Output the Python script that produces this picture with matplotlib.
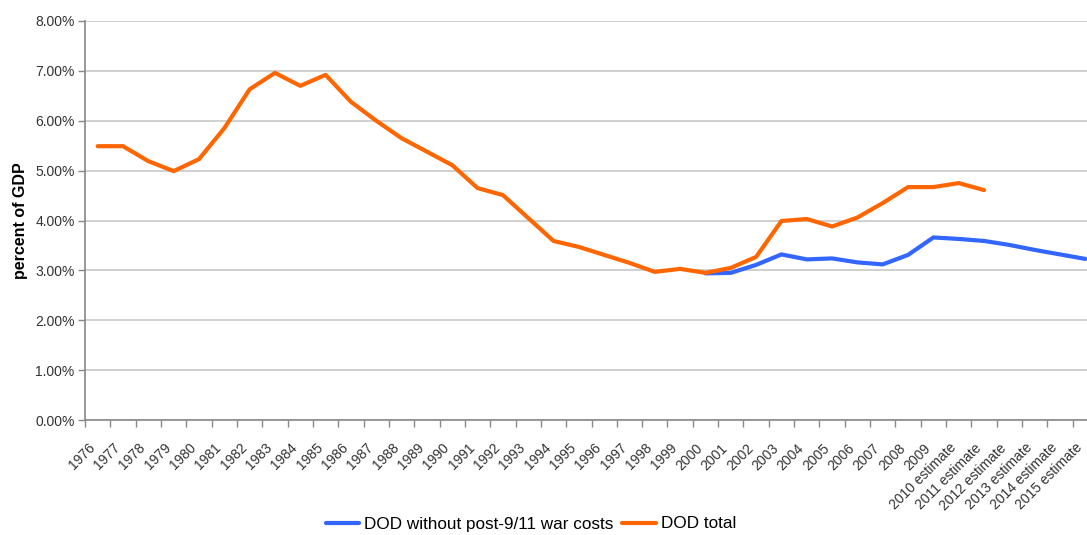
#!/usr/bin/env python3
import matplotlib
matplotlib.use('Agg')
import matplotlib.pyplot as plt
import matplotlib.transforms as mtransforms
import numpy as np

plt.rcParams['font.family'] = ['Liberation Sans', 'DejaVu Sans']

years = [str(y) for y in range(1976, 2010)] + ['%d estimate' % y for y in range(2010, 2016)]

# DOD total, percent of GDP (1976 .. 2011 estimate)
dod_total = [5.49, 5.49, 5.19, 4.99, 5.23, 5.85, 6.63, 6.96, 6.70, 6.92,
             6.38, 6.00, 5.65, 5.38, 5.11, 4.65, 4.51, 4.05, 3.59, 3.47,
             3.31, 3.15, 2.97, 3.03, 2.95, 3.05, 3.27, 3.99, 4.03, 3.88,
             4.06, 4.35, 4.67, 4.67, 4.75, 4.61]

# DOD without post-9/11 war costs (2000 .. 2015 estimate)
dod_base_start = 24
dod_base = [2.94, 2.95, 3.11, 3.32, 3.22, 3.24, 3.16, 3.12, 3.31, 3.66,
            3.63, 3.59, 3.51, 3.41, 3.32, 3.23]

W, H = 1087, 535
fig = plt.figure(figsize=(W / 100, H / 100), dpi=100)
ax = fig.add_axes([85 / W, (H - 420) / H, 1013 / W, 399 / H])

x_total = np.arange(len(dod_total))
x_base = np.arange(dod_base_start, dod_base_start + len(dod_base))

ax.plot(x_base, dod_base, color='#3366FF', lw=3, label='DOD without post-9/11 war costs',
        solid_joinstyle='round', solid_capstyle='round')
ax.plot(x_total, dod_total, color='#FF6600', lw=3, label='DOD total',
        solid_joinstyle='round', solid_capstyle='round')

ax.set_xlim(-0.5, len(years) - 0.5)
ax.set_ylim(0, 8)
ax.set_yticks(np.arange(0, 9, 1))
ax.set_yticklabels(['%.2f%%' % v for v in np.arange(0, 9, 1)])
ax.yaxis.grid(True, color='#C8C8C8', lw=1.2)
ax.set_axisbelow(True)

ax.set_xticks(np.arange(len(years)))
ax.set_xticks(np.arange(-0.5, len(years), 1), minor=True)
ax.set_xticklabels(years, rotation=45, ha='right', rotation_mode='anchor')
ax.tick_params(axis='x', which='major', length=0, pad=15, labelsize=10, colors='#333333')
ax.tick_params(axis='x', which='minor', length=5, color='#888888', width=1)
ax.tick_params(axis='y', length=5, color='#888888', width=1, labelsize=10, colors='#333333', pad=2.5)

# nudge rotated year labels left, like the original
shift = mtransforms.ScaledTranslation(-10 / 100, 0, fig.dpi_scale_trans)
for lbl in ax.get_xticklabels():
    lbl.set_transform(lbl.get_transform() + shift)

for s in ['top', 'right']:
    ax.spines[s].set_visible(False)
for s in ['left', 'bottom']:
    ax.spines[s].set_color('#888888')
    ax.spines[s].set_linewidth(1.2)

ax.set_ylabel('percent of GDP', fontsize=11.5, fontweight='bold')
ax.yaxis.set_label_coords(-57 / 1013, 0.5)

fig.legend(loc='center', bbox_to_anchor=(531 / W, 1 - 524 / H), ncol=2, frameon=False,
           fontsize=12.3, handlelength=1.95, handletextpad=0.3, columnspacing=0.5)

fig.savefig('out.png', dpi=100)
